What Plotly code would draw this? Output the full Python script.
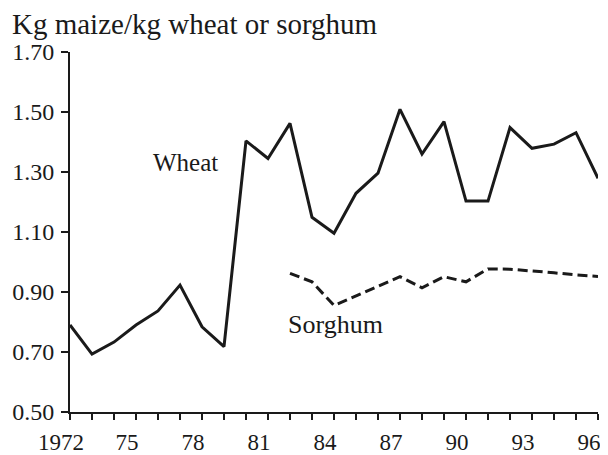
import plotly.graph_objects as go

years = list(range(1972, 1997))
wheat = [0.79, 0.693, 0.733, 0.79, 0.837, 0.923, 0.784, 0.718, 1.404, 1.345,
         1.462, 1.149, 1.096, 1.229, 1.296, 1.509, 1.36, 1.468, 1.203, 1.203,
         1.448, 1.379, 1.393, 1.431, 1.279]
sorghum_years = list(range(1982, 1997))
sorghum = [0.962, 0.934, 0.855, 0.887, 0.919, 0.951, 0.914, 0.951, 0.934, 0.977,
           0.976, 0.971, 0.964, 0.957, 0.952]

x_label_years = [1972, 1975, 1978, 1981, 1984, 1987, 1990, 1993, 1996]
x_tick_text = ["1972", "75", "78", "81", "84", "87", "90", "93", "96"]
y_ticks = [0.5, 0.7, 0.9, 1.1, 1.3, 1.5, 1.7]
y_tick_text = ["0.50", "0.70", "0.90", "1.10", "1.30", "1.50", "1.70"]

FONT = "Liberation Serif"
INK = "#1a1a1a"

fig = go.Figure()
fig.add_trace(go.Scatter(x=years, y=wheat, mode="lines",
                         line=dict(color=INK, width=3), name="Wheat"))
fig.add_trace(go.Scatter(x=sorghum_years, y=sorghum, mode="lines",
                         line=dict(color=INK, width=3, dash="10px,5px"),
                         name="Sorghum"))

ticktext = [x_tick_text[x_label_years.index(y)] if y in x_label_years else "" for y in years]

# the page has an 8px body margin, so the figure is 8px smaller on each axis
W, H = 600, 447
L, R, T, B = 62, 10, 44, 43
PW, PH = W - L - R, H - T - B

fig.update_layout(
    width=W, height=H,
    margin=dict(l=L, r=R, t=T, b=B),
    paper_bgcolor="white", plot_bgcolor="white",
    showlegend=False,
    font=dict(family=FONT, size=24, color=INK),
    xaxis=dict(range=[1972, 1996], tickmode="array", tickvals=years, ticktext=ticktext,
               ticks="outside", ticklen=6, tickwidth=2, tickcolor=INK,
               showline=True, linewidth=2, linecolor=INK,
               showgrid=False, zeroline=False, ticklabelshift=-9,
               ticklabelstandoff=2, automargin=False,
               tickfont=dict(family=FONT, size=23, color=INK)),
    yaxis=dict(range=[0.5, 1.7], tickmode="array", tickvals=y_ticks, ticktext=y_tick_text,
               ticks="outside", ticklen=7, tickwidth=2, tickcolor=INK,
               showline=True, linewidth=2, linecolor=INK,
               showgrid=False, zeroline=False, automargin=False,
               ticklabelstandoff=2),
    annotations=[
        dict(text="Kg maize/kg wheat or sorghum", xref="paper", yref="paper",
             x=(2 - L) / PW, y=1 + (T - 16) / PH, xanchor="left", yanchor="middle",
             showarrow=False, font=dict(family=FONT, size=29)),
        dict(text="Wheat", x=1975.69, y=1.333, xanchor="left", yanchor="middle",
             showarrow=False, font=dict(family=FONT, size=25)),
        dict(text="Sorghum", x=1981.8, y=0.793, xanchor="left", yanchor="middle",
             showarrow=False, font=dict(family=FONT, size=26)),
    ],
)

fig.write_html("out.html")
